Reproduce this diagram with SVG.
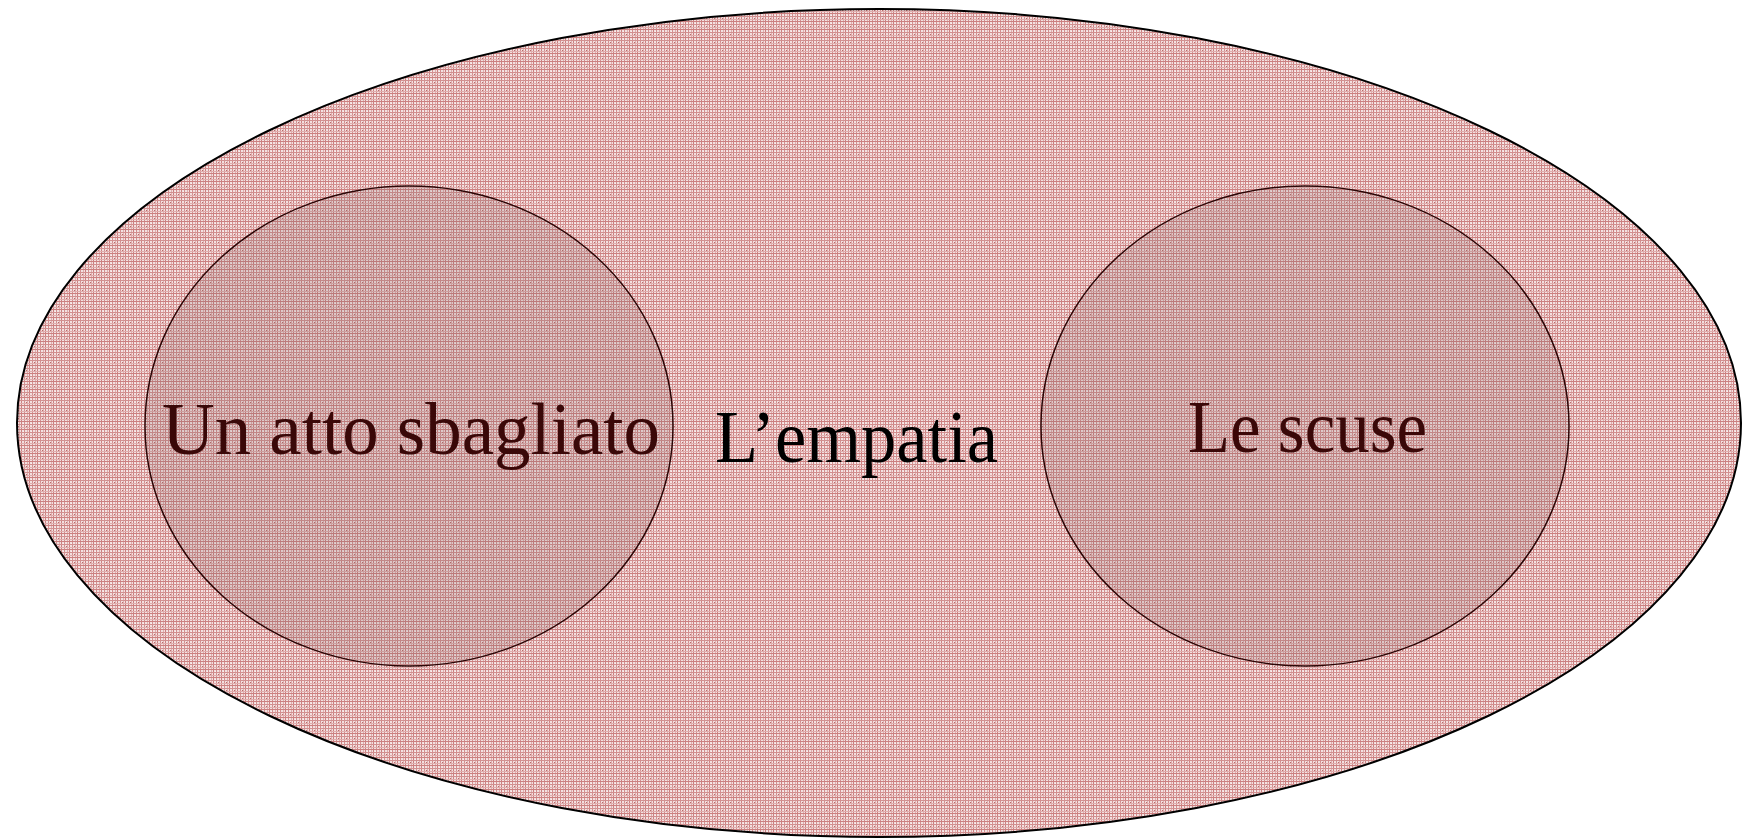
<svg xmlns="http://www.w3.org/2000/svg" width="1742" height="840" viewBox="0 0 1742 840">
<defs>
<pattern id="plaid" x="0" y="0" width="8" height="8" patternUnits="userSpaceOnUse">
<rect width="8" height="8" fill="#f3e0e0"/>
<rect x="0" y="0" width="1" height="8" fill="#d29090"/>
<rect x="3" y="0" width="1" height="8" fill="#e0adad"/>
<rect x="5" y="0" width="1" height="8" fill="#cc8080"/>
<rect x="0" y="0" width="8" height="1" fill="#d29090"/>
<rect x="0" y="3" width="8" height="1" fill="#e0adad"/>
<rect x="0" y="5" width="8" height="1" fill="#cc8080"/>
<rect x="2" y="2" width="1" height="1" fill="#b86a6a"/>
<rect x="7" y="7" width="1" height="1" fill="#fbf1f1"/>
</pattern>
<style>
.outer{fill:url(#plaid);stroke:#000;stroke-width:2}
.inner{fill:url(#plaid);stroke:#2a0505;stroke-width:1.5}
.shade{fill:#7a6060;fill-opacity:0.18;stroke:none}
.lbl{font-family:"Liberation Serif","DejaVu Serif",serif;font-size:74px}
</style>
</defs>
<g id="empatia">
<ellipse class="outer" cx="879" cy="423" rx="862" ry="414"/>
<text class="lbl" x="715" y="462" fill="#000" textLength="283" lengthAdjust="spacingAndGlyphs">L’empatia</text>
</g>
<g id="atto">
<ellipse class="inner" cx="409" cy="426" rx="264" ry="240"/>
<ellipse class="shade" cx="409" cy="426" rx="263" ry="239"/>
<text class="lbl" x="162" y="454" fill="#3a0808" textLength="498" lengthAdjust="spacingAndGlyphs">Un atto sbagliato</text>
</g>
<g id="scuse">
<ellipse class="inner" cx="1305" cy="426" rx="264" ry="240"/>
<ellipse class="shade" cx="1305" cy="426" rx="263" ry="239"/>
<text class="lbl" x="1188" y="452" fill="#3a0808" textLength="239" lengthAdjust="spacingAndGlyphs">Le scuse</text>
</g>
<g id="connectors"/>
</svg>
